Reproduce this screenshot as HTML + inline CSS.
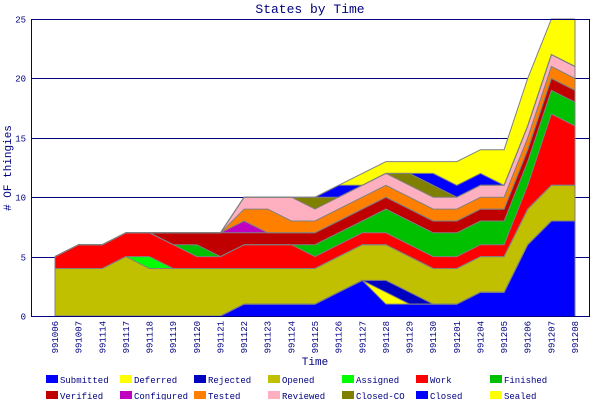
<!DOCTYPE html>
<html><head><meta charset="utf-8"><style>
html,body{margin:0;padding:0;background:#fff;}
svg{display:block;}
text{font-family:"Liberation Mono","DejaVu Sans Mono",monospace;fill:#000080;}
</style></head><body>
<svg id="c" width="600" height="400" viewBox="0 0 600 400" xmlns="http://www.w3.org/2000/svg">
<rect x="0" y="0" width="600" height="400" fill="#fff"/>
<g id="grid"></g>
<g id="areas"></g>
<rect x="31.5" y="19.5" width="558" height="297" fill="none" stroke="#000080" stroke-width="1"/>
<text x="310" y="13" font-size="13" text-anchor="middle">States by Time</text>
<text x="0" y="0" font-size="11" text-anchor="middle" transform="translate(11,168) rotate(-90)"># OF thingies</text>
<text x="315" y="365" font-size="11" text-anchor="middle">Time</text>
<g id="ylab" font-size="9"></g>
<g id="xlab" font-size="9"></g>
<g id="legend" font-size="9"></g>
</svg>
<script>
var NS="http://www.w3.org/2000/svg";
function el(t,a,p,txt){var e=document.createElementNS(NS,t);for(var k in a)e.setAttribute(k,a[k]);if(txt!==undefined)e.textContent=txt;p.appendChild(e);return e;}
function X(i){return 55+i*520/22;}
function Y(v){return 316-11.88*v;}
var grid=document.getElementById('grid'),ylab=document.getElementById('ylab');
for(var v=0;v<=25;v+=5){
  var y=Math.round(Y(v))+0.5;
  if(v>0) el('line',{x1:31,y1:y,x2:589,y2:y,stroke:'#000080','stroke-width':1},grid);
  el('text',{x:26,y:y+3,'text-anchor':'end'},ylab,String(v));
}
var labels=["991006","991007","991114","991117","991118","991119","991120","991121","991122","991123","991124","991125","991126","991127","991128","991129","991130","991201","991204","991205","991206","991207","991208"];
var xl=document.getElementById('xlab');
labels.forEach(function(l,i){
  el('text',{x:0,y:0,'text-anchor':'end',transform:'translate('+(X(i)+3)+',321) rotate(-90)'},xl,l);
});
var S=[0,0,0,0,0,0,0,0,1,1,1,1,2,3,1,1,1,1,2,2,6,8,8];
var D=S.slice();D[14]+=1;
var R=D.slice();R[14]+=1;R[15]+=1;
var O=[4,4,4,5,4,4,4,4,4,4,4,4,5,6,6,5,4,4,5,5,9,11,11];
var A=O.slice();A[4]=5;
var W=[5,6,6,7,7,6,5,5,6,6,6,5,6,7,7,6,5,5,6,6,11,17,16];
var F=W.slice();F[6]=6;F[11]=6;F[12]=7;F[13]=8;F[14]=9;F[15]=8;F[16]=7;F[17]=7;F[18]=8;F[19]=8;F[20]=13;F[21]=19;F[22]=18;
var V=[5,6,6,7,7,7,7,7,7,7,7,7,8,9,10,9,8,8,9,9,14,20,19];
var Cf=V.slice();Cf[8]=8;
var T=[5,6,6,7,7,7,7,7,9,9,8,8,9,10,11,10,9,9,10,10,15,21,20];
var Rv=[5,6,6,7,7,7,7,7,10,10,10,9,10,11,12,11,10,10,11,11,16,22,21];
var CO=Rv.slice();CO[11]=10;CO[15]=12;CO[16]=11;
var Cl=CO.slice();Cl[12]=11;Cl[16]=12;Cl[17]=11;Cl[18]=12;
var Se=Cl.slice();Se[13]=12;Se[14]=13;Se[15]=13;Se[16]=13;Se[17]=13;Se[18]=14;Se[19]=14;Se[20]=20;Se[21]=25;Se[22]=25;
var layers=[[S,'#0000ff','Submitted'],[D,'#ffff00','Deferred'],[R,'#0000c0','Rejected'],[O,'#c0c000','Opened'],[A,'#00ff00','Assigned'],[W,'#ff0000','Work'],[F,'#00c000','Finished'],[V,'#c00000','Verified'],[Cf,'#c000c0','Configured'],[T,'#ff8000','Tested'],[Rv,'#ffb0c0','Reviewed'],[CO,'#808000','Closed-CO'],[Cl,'#0000ff','Closed'],[Se,'#ffff00','Sealed']];
var ar=document.getElementById('areas');
var prev=null;
layers.forEach(function(L){
  var top=L[0],pts=[];
  for(var i=0;i<23;i++)pts.push(X(i).toFixed(1)+','+Y(top[i]).toFixed(1));
  for(var i=22;i>=0;i--)pts.push(X(i).toFixed(1)+','+Y(prev?prev[i]:0).toFixed(1));
  el('polygon',{points:pts.join(' '),fill:L[1],stroke:'none'},ar);
  prev=top;
});
layers.forEach(function(L){
  var top=L[0],pts=[];
  for(var i=0;i<23;i++)pts.push(X(i).toFixed(1)+','+Y(top[i]).toFixed(1));
  el('polyline',{points:pts.join(' '),fill:'none',stroke:'#808080','stroke-width':1},ar);
});
el('line',{x1:X(0),y1:Y(0),x2:X(0),y2:Y(5),stroke:'#808080'},ar);
el('line',{x1:X(22),y1:Y(0),x2:X(22),y2:Y(25),stroke:'#808080'},ar);
var lg=document.getElementById('legend');
layers.forEach(function(L,k){
  var row=k<7?0:1,col=k%7;
  var x=46+col*74,y=row?391:375;
  el('rect',{x:x,y:y,width:12,height:8,fill:L[1]},lg);
  el('text',{x:x+14,y:y+8},lg,L[2]);
});
</script>
</body></html>
